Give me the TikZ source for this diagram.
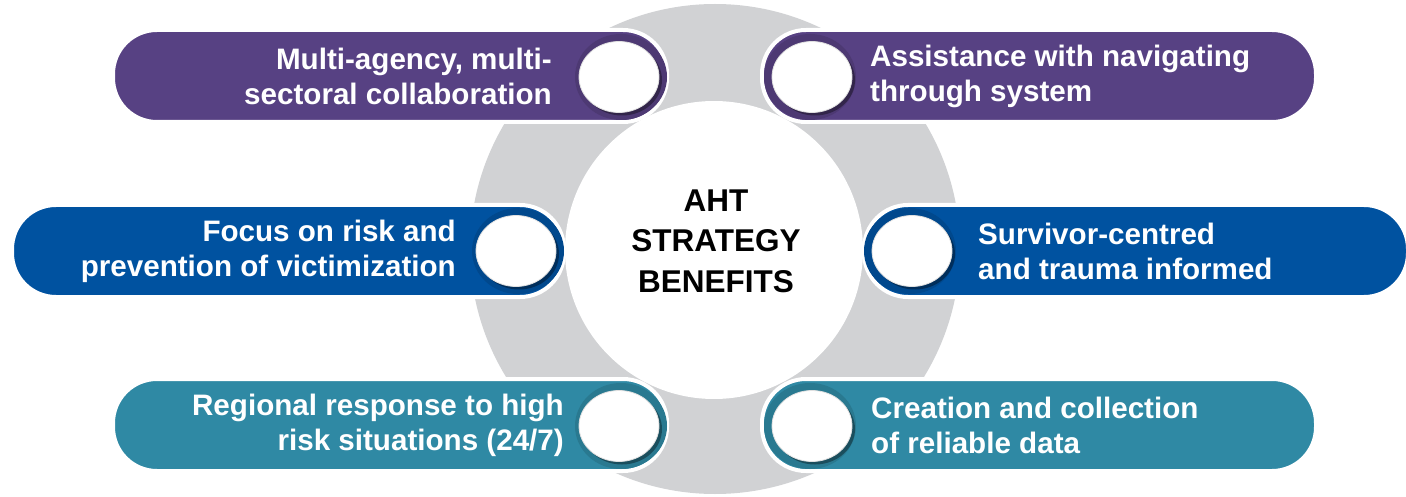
\documentclass[tikz,border=0pt]{standalone}
\usepackage{fontspec}
\setmainfont{Liberation Sans}
\usetikzlibrary{shapes.geometric}
\definecolor{cpurple}{HTML}{574183}
\definecolor{cblue}{HTML}{0052A0}
\definecolor{cteal}{HTML}{2F89A4}
\definecolor{cgray}{HTML}{D1D2D4}
\tikzset{
  ringbg/.style={circle, fill=cgray, minimum size=490pt, inner sep=0},
  hub/.style={circle, fill=white, minimum size=298pt, inner sep=0},
  pill/.style={rectangle, draw=white, line width=4pt, rounded corners=44pt,
    minimum height=92pt, inner sep=0},
  capring/.style={ellipse, minimum width=92pt, minimum height=86pt, inner sep=0, fill=#1!88!black},
  holeshadow/.style={ellipse, minimum width=80pt, minimum height=71pt, inner sep=0, fill=black, opacity=0.35},
  hole/.style={ellipse, minimum width=80pt, minimum height=71pt, inner sep=0, fill=white,
    draw=black!12, line width=0.8pt},
  lbl/.style={text=white, inner sep=0, font=\bfseries\fontsize{29.6}{35}\selectfont},
}
\begin{document}
\begin{tikzpicture}[x=1pt,y=-1pt]
\useasboundingbox (0,0) rectangle (1406,497);
% gray ring and hub
\node[ringbg] (ring) at (715,249) {};
\node[hub] (hubc) at (714,250) {};
% pills
\node[pill, fill=cpurple, minimum width=554pt] (p1) at (390,76) {};
\node[pill, fill=cpurple, minimum width=554pt] (p2) at (1039,76) {};
\node[pill, fill=cblue, minimum width=552pt] (p3) at (288,251) {};
\node[pill, fill=cblue, minimum width=544pt] (p4) at (1136,251) {};
\node[pill, fill=cteal, minimum width=554pt] (p5) at (390,425) {};
\node[pill, fill=cteal, minimum width=554pt] (p6) at (1039,425) {};
% cap rings
\node[capring=cpurple] (r1) at (621,77) {};
\node[capring=cpurple] (r2) at (810,77) {};
\node[capring=cblue] (r3) at (518,251) {};
\node[capring=cblue] (r4) at (910,251) {};
\node[capring=cteal] (r5) at (621,426) {};
\node[capring=cteal] (r6) at (810,426) {};
% shadows
\node[holeshadow] (s1) at (622,80) {};
\node[holeshadow] (s2) at (815,80) {};
\node[holeshadow] (s3) at (519,254) {};
\node[holeshadow] (s4) at (915,254) {};
\node[holeshadow] (s5) at (622,429) {};
\node[holeshadow] (s6) at (815,429) {};
% holes
\node[hole] (h1) at (619,77) {};
\node[hole] (h2) at (812,77) {};
\node[hole] (h3) at (516,251) {};
\node[hole] (h4) at (912,251) {};
\node[hole] (h5) at (619,426) {};
\node[hole] (h6) at (812,426) {};
% labels
\node[lbl, anchor=east, align=right] (t1) at (552,76) {Multi-agency, multi-\\sectoral collaboration};
\node[lbl, anchor=west, align=left] (t2) at (870,76) {Assistance with navigating\\through system};
\node[lbl, anchor=east, align=right] (t3) at (456,251) {Focus on risk and\\prevention of victimization};
\node[lbl, anchor=west, align=left] (t4) at (978,251) {Survivor-centred\\and trauma informed};
\node[lbl, anchor=east, align=right] (t5) at (564,425) {Regional response to high\\risk situations (24/7)};
\node[lbl, anchor=west, align=left] (t6) at (871,425) {Creation and collection\\of reliable data};
% hub text
\node[inner sep=0, align=center, font=\bfseries\fontsize{31.5}{40.5}\selectfont] (title) at (716,241) {AHT\\STRATEGY\\BENEFITS};
\end{tikzpicture}
\end{document}
